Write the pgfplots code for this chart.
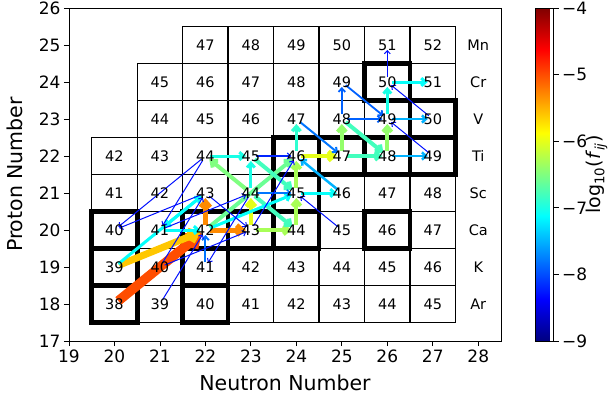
\documentclass[border=0pt]{standalone}
\usepackage{pgfplots}
\pgfplotsset{compat=1.18}
\usepackage{pgfplotstable}
\usepackage{fontspec}
\setmainfont{DejaVu Sans}
\usetikzlibrary{arrows.meta}

\pgfdeclareplotmark{cell}{%
  \pgfpathrectangle{\pgfpoint{-22.737pt}{-18.5pt}}{\pgfpoint{45.474pt}{37pt}}%
  \pgfusepathqfillstroke}
\pgfdeclareplotmark{stablecell}{%
  \pgfpathrectangle{\pgfpoint{-22.737pt}{-18.5pt}}{\pgfpoint{45.474pt}{37pt}}%
  \pgfusepathqstroke}

\pgfplotstableread{
N Z A
20 18 38
21 18 39
22 18 40
23 18 41
24 18 42
25 18 43
26 18 44
27 18 45
20 19 39
21 19 40
22 19 41
23 19 42
24 19 43
25 19 44
26 19 45
27 19 46
20 20 40
21 20 41
22 20 42
23 20 43
24 20 44
25 20 45
26 20 46
27 20 47
20 21 41
21 21 42
22 21 43
23 21 44
24 21 45
25 21 46
26 21 47
27 21 48
20 22 42
21 22 43
22 22 44
23 22 45
24 22 46
25 22 47
26 22 48
27 22 49
21 23 44
22 23 45
23 23 46
24 23 47
25 23 48
26 23 49
27 23 50
21 24 45
22 24 46
23 24 47
24 24 48
25 24 49
26 24 50
27 24 51
22 25 47
23 25 48
24 25 49
25 25 50
26 25 51
27 25 52
}\cells

\pgfplotstableread{
N Z
20 18
22 18
20 19
22 19
20 20
22 20
23 20
24 20
26 20
24 21
24 22
25 22
26 22
27 22
27 23
26 24
}\stable

\pgfplotstableread{
N Z E
28 18 Ar
28 19 K
28 20 Ca
28 21 Sc
28 22 Ti
28 23 V
28 24 Cr
28 25 Mn
}\elements

% flux arrow: x1 y1 x2 y2 log10(f) width(pt)
\newcommand{\fl}[6]{%
  \pgfmathsetmacro{\fcol}{(#5+9)*200}%
  \edef\doplot{\noexpand\addplot[color of colormap={\fcol}, line width=#6pt,
     -{Straight Barb[length=2.5pt 0.6, width=5pt 0.9]}, shorten >=5pt, shorten <=5pt]
     coordinates {(#1,#2) (#3,#4)};}%
  \doplot}

\begin{document}
\begin{tikzpicture}
\useasboundingbox (-69pt,-59pt) rectangle (540pt,341pt);
\begin{axis}[
  scale only axis, width=432pt, height=333pt,
  at={(0pt,0pt)}, anchor=south west,
  clip marker paths=true,
  xmin=19, xmax=28.5, ymin=17, ymax=26,
  xtick={19,...,28}, ytick={17,...,26},
  tick align=outside, tick pos=left,
  major tick length=5pt,
  tick style={black, line width=0.8pt},
  axis line style={line width=0.8pt},
  ticklabel style={font=\fontsize{17}{19}\selectfont},
  /pgf/number format/assume math mode=true,
  xlabel={Neutron Number}, ylabel={Proton Number},
  label style={font=\fontsize{20.5}{24}\selectfont},
  xlabel style={at={(axis description cs:0.5,-0.125)}, anchor=center},
  ylabel style={at={(axis description cs:-0.125,0.5)}, anchor=center},
  colormap/jet, point meta min=-9, point meta max=-4,
  colorbar,
  colorbar style={
    at={(parent axis.north east)}, anchor=north west, xshift=26pt,
    scale only axis, width=18pt, height=333pt,
    ytick={-9,...,-4}, yticklabels={−9,−8,−7,−6,−5,−4},
    ytick pos=right, yticklabel pos=right,
    tick align=outside, major tick length=5pt,
    tick style={black, line width=0.8pt},
    axis line style={line width=0.8pt},
    ticklabel style={font=\fontsize{17}{19}\selectfont},
    ylabel={log\textsubscript{10}(\textit{f}\textsubscript{\textit{ij}})},
    ylabel style={font=\fontsize{19}{22}\selectfont, at={(axis description cs:3.4,0.5)}, anchor=center, rotate=0},
  },
]
% nuclide cells
\addplot[only marks, mark=cell, mark options={fill=white, draw=black, line width=1.4pt}] table[x=N, y=Z] \cells;
% stable nuclides
\addplot[only marks, mark=stablecell, mark options={draw=black, line width=4.6pt}] table[x=N, y=Z] \stable;

% flux arrows (thick first)
\fl{20}{18}{22}{20}{-5.0}{9.5}
\fl{20}{19}{22}{20}{-5.6}{7}
\fl{22}{20}{22}{21}{-5.3}{5}
\fl{22}{20}{23}{20}{-5.3}{5}
\fl{23}{20}{23}{21}{-6.0}{4.5}
\fl{24}{22}{25}{22}{-6.0}{4.5}
\fl{23}{20}{24}{20}{-6.3}{4}
\fl{24}{20}{24}{21}{-6.3}{4}
\fl{24}{21}{24}{22}{-6.3}{4}
\fl{25}{22}{25}{23}{-6.4}{4}
\fl{26}{22}{26}{23}{-6.4}{4}
\fl{23}{21}{22}{22}{-6.5}{4}
\fl{22}{20}{24}{22}{-6.6}{4}
\fl{23}{22}{24}{21}{-6.8}{4}
\fl{23}{21}{24}{20}{-6.8}{4}
\fl{25}{23}{26}{22}{-6.8}{4}
\fl{25}{22}{26}{22}{-6.8}{3.5}
\fl{24}{22}{24}{23}{-6.9}{3.5}
\fl{22}{22}{23}{22}{-7.0}{3}
\fl{23}{21}{23}{22}{-7.0}{3}
\fl{24}{21}{25}{21}{-7.1}{3}
\fl{26}{23}{26}{24}{-7.0}{3}
\fl{26}{24}{27}{24}{-7.1}{3}
\fl{21}{20}{22}{20}{-7.1}{3}
\fl{20}{19}{22}{21}{-7.1}{3}
\fl{22}{21}{21}{20}{-7.1}{3}
\fl{22}{20}{24}{21}{-7.1}{3}
\fl{26}{22}{27}{22}{-7.5}{2.5}
\fl{26}{23}{27}{23}{-7.5}{2.5}
\fl{25}{21}{24}{22}{-7.5}{2.5}
\fl{23}{21}{24}{21}{-7.8}{1.5}
\fl{25}{23}{25}{24}{-7.9}{1.8}
\fl{25}{23}{26}{23}{-7.9}{1.8}
\fl{25}{24}{26}{23}{-7.9}{1.8}
\fl{24}{23}{25}{22}{-7.8}{2}
\fl{22}{19}{22}{20}{-7.8}{2}
\fl{23}{22}{24}{22}{-8.2}{1.2}
\fl{27}{22}{26}{23}{-8.3}{1}
\fl{27}{23}{26}{24}{-8.3}{1}
\fl{26}{24}{26}{25}{-8.3}{1}
\fl{25}{20}{24}{21}{-8.3}{1}
\fl{22}{22}{20}{20}{-8.3}{1}
\fl{22}{22}{21}{20}{-8.3}{1}
\fl{22}{21}{20}{20}{-8.3}{1}
\fl{22}{21}{23}{20}{-8.3}{1}
\fl{21}{19}{23}{20}{-8.3}{1}
\fl{21}{19}{22}{21}{-8.3}{1}
\fl{21}{18}{22}{20}{-8.3}{1}
\fl{23}{21}{22}{19}{-8.3}{1}
\fl{23}{20}{24}{22}{-8.3}{1}
\fl{21}{20}{23}{21}{-8.3}{1}

% mass numbers
\addplot[draw=none, nodes near coords, point meta=explicit symbolic,
  every node near coord/.append style={anchor=center, black, font=\fontsize{14.5}{16}\selectfont}]
  table[x=N, y=Z, meta=A] \cells;
% element symbols
\addplot[draw=none, nodes near coords, point meta=explicit symbolic,
  every node near coord/.append style={anchor=center, black, font=\fontsize{14.5}{16}\selectfont}]
  table[x=N, y=Z, meta=E] \elements;
\end{axis}
\end{tikzpicture}
\end{document}
